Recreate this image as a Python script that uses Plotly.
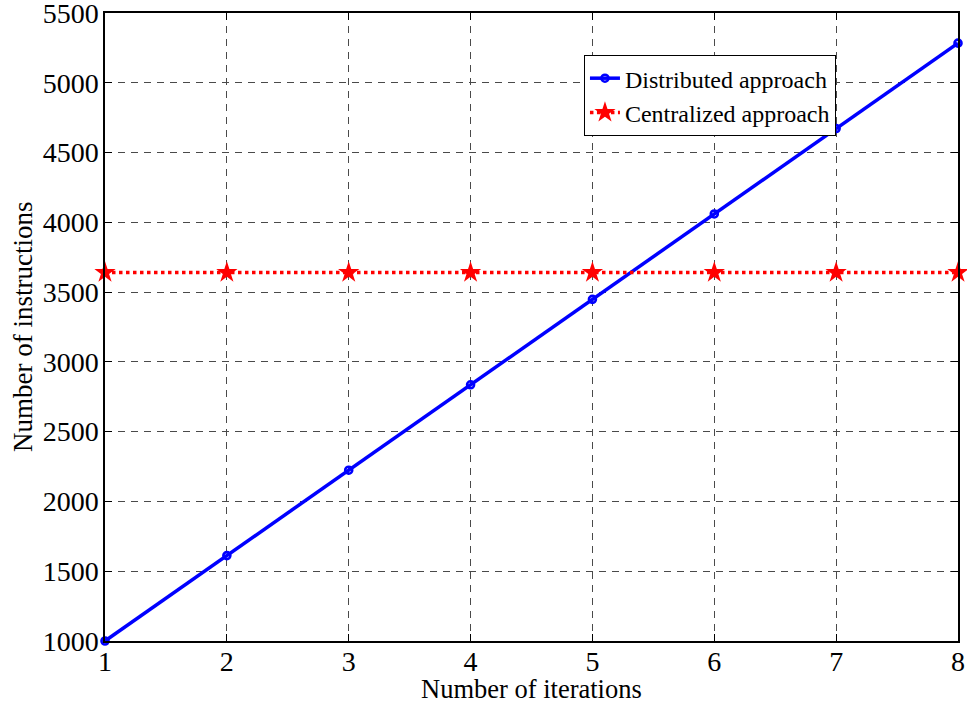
import plotly.graph_objects as go

iterations = [1, 2, 3, 4, 5, 6, 7, 8]
distributed = [1000, 1612, 2224, 2836, 3448, 4060, 4672, 5284]
centralized = [3640, 3640, 3640, 3640, 3640, 3640, 3640, 3640]

x_title = "Number of iterations"
y_title = "Number of instructions"

FONT = "Liberation Serif"

fig = go.Figure()
fig.add_trace(go.Scatter(x=iterations, y=distributed, mode="lines+markers",
                         name="Distributed approach", cliponaxis=False,
                         line=dict(color="#0000ff", width=3.5),
                         marker=dict(symbol="circle-open", size=7, color="#0000ff",
                                     line=dict(width=2.6, color="#0000ff"))))
fig.add_trace(go.Scatter(x=iterations, y=centralized, mode="lines+markers",
                         name="Centralized approach", cliponaxis=False,
                         line=dict(color="#ff0000", width=3.5, dash="dot"),
                         marker=dict(symbol="star", size=16, color="#ff0000")))

axis_common = dict(showline=True, linecolor="black", linewidth=1.5, mirror="ticks",
                   ticks="inside", ticklen=7, tickcolor="black", tickwidth=1,
                   showgrid=True, gridcolor="#4a4a4a", griddash="7px,6px", gridwidth=1,
                   zeroline=False, automargin=False, ticklabeloverflow="allow",
                   tickfont=dict(family=FONT, size=28, color="black"))

fig.update_xaxes(range=[1, 8], dtick=1, ticklabelstandoff=-5, **axis_common)
fig.update_yaxes(range=[1000, 5500], dtick=500, ticklabelstandoff=-1, **axis_common)

fig.add_annotation(text=x_title, xref="paper", yref="paper", x=0.5, y=0,
                   xanchor="center", yanchor="top", yshift=-32, showarrow=False,
                   borderpad=0,
                   font=dict(family=FONT, size=26.5, color="black"))
fig.add_annotation(text=y_title, xref="paper", yref="paper", x=0, y=0.5,
                   xanchor="center", yanchor="middle", xshift=-82, textangle=-90,
                   showarrow=False, font=dict(family=FONT, size=27, color="black"))

fig.update_layout(width=967, height=704, plot_bgcolor="white", paper_bgcolor="white",
                  margin=dict(l=105, r=9, t=13, b=63),
                  legend=dict(x=0.5615, y=0.933, xanchor="left", yanchor="top",
                              bgcolor="white", bordercolor="black", borderwidth=1,
                              font=dict(family=FONT, size=24, color="black"),
                              tracegroupgap=0, itemwidth=30),
                  showlegend=True)

fig.write_html("out.html", config={"displayModeBar": False},
               post_script="document.body.style.margin='0';")
